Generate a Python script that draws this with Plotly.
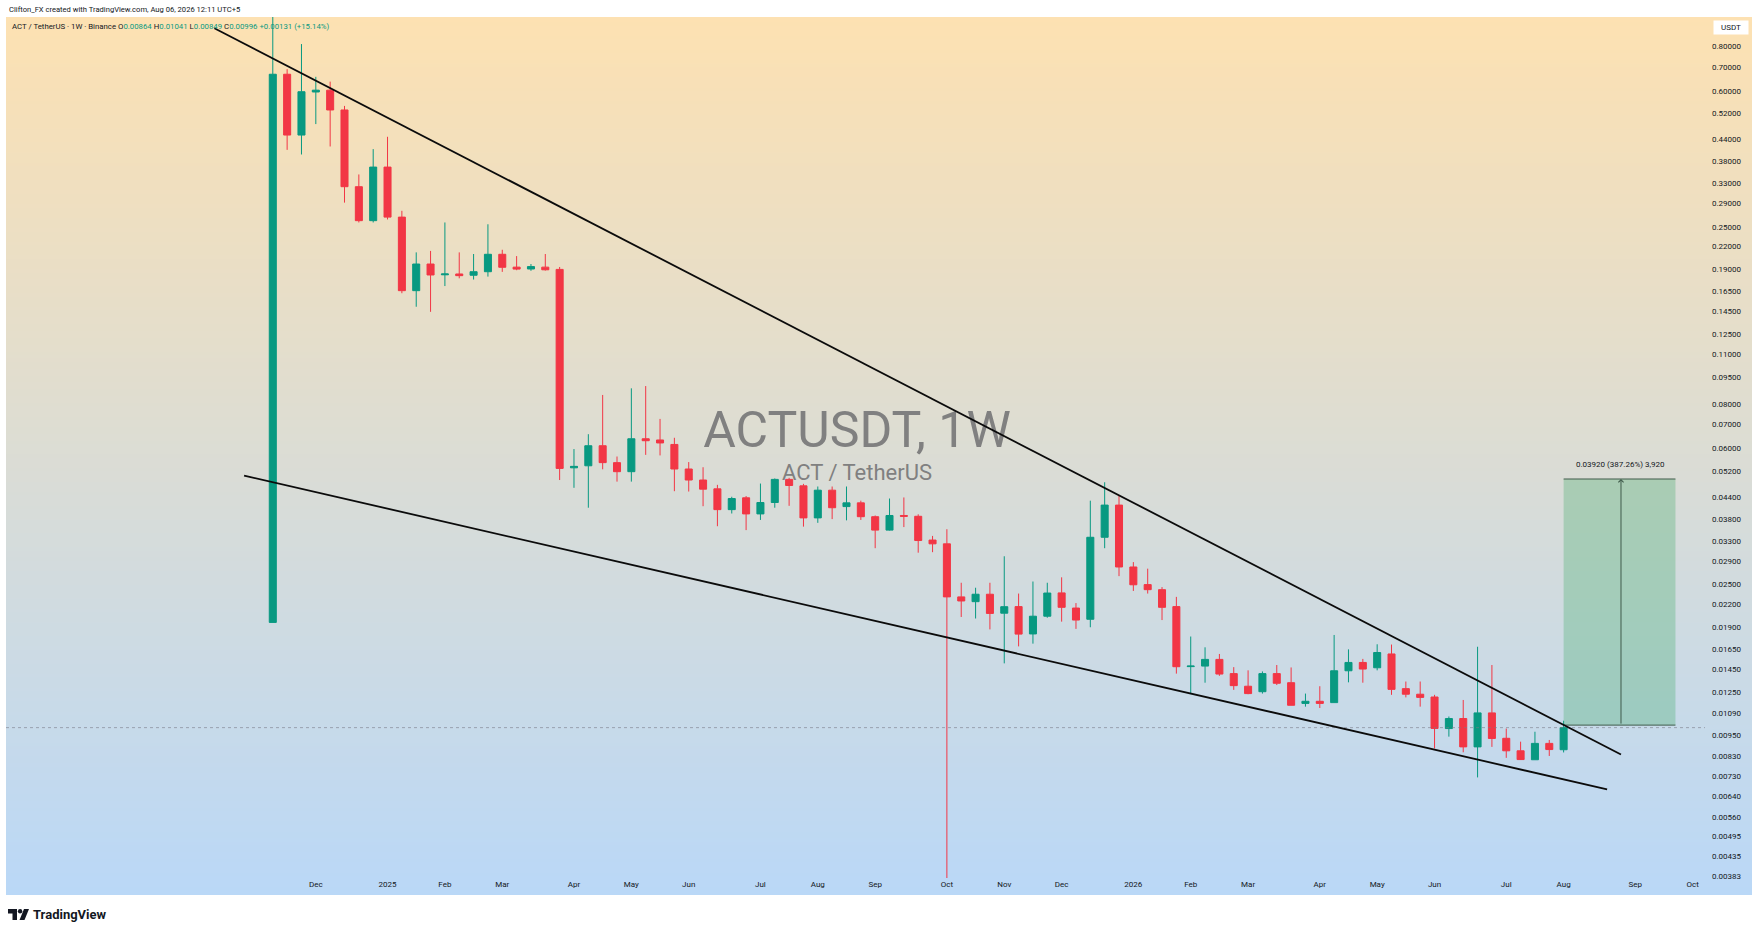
import math, zlib, struct, base64
import pandas as pd
import plotly.graph_objects as go

# ---------------- data ----------------
FIRST_WEEK = "2024-11-11"
OPEN = [0.0196, 0.667, 0.451, 0.595, 0.602, 0.530, 0.3235, 0.260, 0.367, 0.266,
        0.1657, 0.1967, 0.1835, 0.1845, 0.1830, 0.1872, 0.2094, 0.1928, 0.1905, 0.1928,
        0.1900, 0.0530, 0.0537, 0.0611, 0.0548, 0.0517, 0.0639, 0.0634, 0.0616, 0.0526,
        0.0490, 0.0463, 0.0405, 0.0437, 0.0394, 0.0424, 0.0492, 0.0472, 0.0384, 0.0459,
        0.0413, 0.0423, 0.0387, 0.0355, 0.0390, 0.0388, 0.0333, 0.0325, 0.0231, 0.0224,
        0.0235, 0.0208, 0.0217, 0.0182, 0.0204, 0.0237, 0.0215, 0.0200, 0.0339, 0.0417,
        0.0280, 0.0250, 0.0242, 0.0217, 0.01475, 0.0148, 0.01545, 0.0141, 0.0130, 0.01255,
        0.0141, 0.0133, 0.01164, 0.0118, 0.0117, 0.01436, 0.01515, 0.01464, 0.0160, 0.0128,
        0.01235, 0.01213, 0.0099, 0.01056, 0.0088, 0.01095, 0.0093, 0.00858, 0.0081, 0.0090,
        0.00864]
HIGH = [1.20, 0.689, 0.810, 0.656, 0.636, 0.544, 0.350, 0.412, 0.446, 0.277,
        0.212, 0.214, 0.257, 0.212, 0.2098, 0.254, 0.2156, 0.207, 0.1967, 0.2098,
        0.193, 0.0598, 0.0658, 0.0847, 0.0570, 0.0884, 0.0897, 0.0726, 0.0643, 0.0550,
        0.0532, 0.0475, 0.0440, 0.0442, 0.0479, 0.0495, 0.0497, 0.0478, 0.0470, 0.0470,
        0.0470, 0.0429, 0.0390, 0.0435, 0.0438, 0.0393, 0.0342, 0.0357, 0.0253, 0.0245,
        0.0253, 0.0300, 0.0236, 0.0255, 0.0253, 0.0262, 0.0222, 0.0429, 0.0483, 0.0443,
        0.0289, 0.0277, 0.0246, 0.0231, 0.0179, 0.0167, 0.0160, 0.0147, 0.0144, 0.0143,
        0.0149, 0.01467, 0.0124, 0.0130, 0.01808, 0.01648, 0.0155, 0.01703, 0.0170, 0.0134,
        0.0134, 0.0123, 0.0107, 0.0119, 0.01676, 0.0149, 0.0099, 0.0091, 0.0097, 0.0092,
        0.01041]
LOW = [0.0196, 0.410, 0.398, 0.484, 0.419, 0.292, 0.257, 0.257, 0.262, 0.163,
       0.1494, 0.1446, 0.1707, 0.1794, 0.178, 0.1814, 0.187, 0.189, 0.1883, 0.1886,
       0.0490, 0.0466, 0.0410, 0.0525, 0.0485, 0.0485, 0.0576, 0.0574, 0.0456, 0.0455,
       0.0414, 0.0364, 0.0395, 0.0355, 0.0379, 0.0410, 0.0415, 0.0363, 0.0372, 0.0381,
       0.0378, 0.0379, 0.0316, 0.0354, 0.0362, 0.0307, 0.0308, 0.0030, 0.0203, 0.0201,
       0.01874, 0.01506, 0.0168, 0.0171, 0.0202, 0.0197, 0.0188, 0.0190, 0.0316, 0.0264,
       0.0240, 0.0236, 0.0199, 0.0141, 0.01236, 0.0133, 0.0139, 0.0127, 0.01235, 0.0124,
       0.0131, 0.0115, 0.0114, 0.0113, 0.0117, 0.01333, 0.0133, 0.0144, 0.0123, 0.0121,
       0.0114, 0.00871, 0.0094, 0.0085, 0.00723, 0.0088, 0.0082, 0.0081, 0.0081, 0.0083,
       0.00849]
CLOSE = [0.667, 0.451, 0.596, 0.602, 0.530, 0.3235, 0.260, 0.367, 0.266, 0.1657,
         0.1967, 0.1833, 0.1845, 0.1825, 0.1872, 0.2094, 0.1926, 0.1904, 0.1935, 0.1895,
         0.0528, 0.0535, 0.0611, 0.0548, 0.0517, 0.0639, 0.0631, 0.0622, 0.0526, 0.0490,
         0.0462, 0.0405, 0.0435, 0.0394, 0.0424, 0.0492, 0.0473, 0.0384, 0.0459, 0.0410,
         0.0423, 0.0387, 0.0355, 0.0390, 0.0388, 0.0332, 0.0325, 0.0231, 0.0225, 0.0235,
         0.02077, 0.02169, 0.01818, 0.0204, 0.02368, 0.0216, 0.0199, 0.0339, 0.0417, 0.0280,
         0.02497, 0.0242, 0.0216, 0.01474, 0.0148, 0.01545, 0.01406, 0.01305, 0.0124, 0.0141,
         0.01325, 0.0115, 0.0118, 0.01164, 0.01436, 0.01515, 0.01452, 0.01615, 0.01274, 0.01235,
         0.0121, 0.00991, 0.01056, 0.0088, 0.01095, 0.00929, 0.00858, 0.00811, 0.0090, 0.00865,
         0.00996]

MONTH_TICK_DATES = ["2024-12-02", "2025-01-06", "2025-02-03", "2025-03-03", "2025-04-07",
                    "2025-05-05", "2025-06-02", "2025-07-07", "2025-08-04", "2025-09-01",
                    "2025-10-06", "2025-11-03", "2025-12-01", "2026-01-05", "2026-02-02",
                    "2026-03-02", "2026-04-06", "2026-05-04", "2026-06-01", "2026-07-06",
                    "2026-08-03", "2026-09-07", "2026-10-05"]
MONTH_TICK_TEXT = ["Dec", "2025", "Feb", "Mar", "Apr", "May", "Jun", "Jul", "Aug", "Sep",
                   "Oct", "Nov", "Dec", "2026", "Feb", "Mar", "Apr", "May", "Jun", "Jul",
                   "Aug", "Sep", "Oct"]
PRICE_TICKS = [0.8, 0.7, 0.6, 0.52, 0.44, 0.38, 0.33, 0.29, 0.25, 0.22, 0.19, 0.165, 0.145,
               0.125, 0.11, 0.095, 0.08, 0.07, 0.06, 0.052, 0.044, 0.038, 0.033, 0.029,
               0.025, 0.022, 0.019, 0.0165, 0.0145, 0.0125, 0.0109, 0.0095, 0.0083, 0.0073,
               0.0064, 0.0056, 0.00495, 0.00435, 0.00383]

UPPER_LINE_DATES = ["2024-10-13 12:00", "2026-08-31"]
UPPER_LINE_PRICES = [0.8965, 0.008378]
LOWER_LINE_DATES = ["2024-10-28", "2026-08-24 05:00"]
LOWER_LINE_PRICES = [0.05041, 0.006695]

RANGE_START = "2026-08-03"
RANGE_MID = "2026-08-31"
RANGE_END = "2026-09-26 14:00"
RANGE_BASE = 0.0101225
RANGE_TARGET = 0.0493225

X_RANGE = ["2024-07-03 19:00", "2026-10-11 00:00"]
Y_RANGE = [0.003785, 0.964]

# ---------------- style ----------------
GREEN = "#089981"
RED = "#F23645"
TXT = "#131722"
FONT = "Roboto"
W_FIG, H_FIG = 1759, 934
L, R, T, B = 6, 1705, 17, 878
PW, PH = R - L, B - T

def px(x):
    return (x - L) / PW

def py(y):
    return (B - y) / PH

def gradient_png(top, bottom, h=256):
    raw = b""
    for i in range(h):
        t = i / (h - 1)
        raw += b"\x00" + bytes([round(top[k] + (bottom[k] - top[k]) * t) for k in range(3)])
    def chunk(tag, data):
        return (struct.pack(">I", len(data)) + tag + data +
                struct.pack(">I", zlib.crc32(tag + data) & 0xffffffff))
    png = (b"\x89PNG\r\n\x1a\n" +
           chunk(b"IHDR", struct.pack(">IIBBBBB", 1, h, 8, 2, 0, 0, 0)) +
           chunk(b"IDAT", zlib.compress(raw)) + chunk(b"IEND", b""))
    return "data:image/png;base64," + base64.b64encode(png).decode()

dates = pd.date_range(FIRST_WEEK, periods=len(OPEN), freq="7D")

fig = go.Figure()

# watermark on the base (lower) subplot so candles draw over it
fig.add_trace(go.Scatter(
    x=[0.5009, 0.5009], y=[0.515, 0.469], mode="text",
    text=["ACTUSDT, 1W", "ACT / TetherUS"],
    textfont=dict(family=FONT, size=[50, 22], color="rgb(128,128,128)"),
    textposition="middle center", hoverinfo="skip", showlegend=False,
    xaxis="x", yaxis="y"))

# candles
fig.add_trace(go.Candlestick(
    x=dates, open=OPEN, high=HIGH, low=LOW, close=CLOSE,
    increasing=dict(line=dict(color=GREEN, width=1), fillcolor=GREEN),
    decreasing=dict(line=dict(color=RED, width=1), fillcolor=RED),
    whiskerwidth=0, showlegend=False, hoverinfo="skip",
    xaxis="x2", yaxis="y2"))

# last price dotted line
fig.add_trace(go.Scatter(
    x=X_RANGE, y=[CLOSE[-1], CLOSE[-1]], mode="lines",
    line=dict(color="rgba(120,123,134,0.6)", width=1, dash="dot"),
    hoverinfo="skip", showlegend=False, xaxis="x2", yaxis="y2"))

# price range box
fig.add_trace(go.Scatter(
    x=[RANGE_START, RANGE_END, RANGE_END, RANGE_START, RANGE_START],
    y=[RANGE_BASE, RANGE_BASE, RANGE_TARGET, RANGE_TARGET, RANGE_BASE],
    mode="lines", fill="toself", fillcolor="rgba(60,170,100,0.30)",
    line=dict(width=0), hoverinfo="skip", showlegend=False, xaxis="x2", yaxis="y2"))
for lvl in (RANGE_BASE, RANGE_TARGET):
    fig.add_trace(go.Scatter(
        x=[RANGE_START, RANGE_END], y=[lvl, lvl], mode="lines",
        line=dict(color="#3f5a4b", width=1), hoverinfo="skip", showlegend=False,
        xaxis="x2", yaxis="y2"))

# trendlines
for xs, ys in ((UPPER_LINE_DATES, UPPER_LINE_PRICES), (LOWER_LINE_DATES, LOWER_LINE_PRICES)):
    fig.add_trace(go.Scatter(
        x=xs, y=ys, mode="lines", line=dict(color="#0b0b0b", width=1.8),
        hoverinfo="skip", showlegend=False, xaxis="x2", yaxis="y2"))

# ---------------- annotations ----------------
o, h, l, c = OPEN[-1], HIGH[-1], LOW[-1], CLOSE[-1]
chg = c - CLOSE[-2]
pct = chg / CLOSE[-2] * 100
def g(s):
    return f"<span style='color:{GREEN}'>{s}</span>"
legend_txt = (f"ACT / TetherUS · 1W · Binance O{g(f'{o:.5f}')} H{g(f'{h:.5f}')} "
              f"L{g(f'{l:.5f}')} C{g(f'{c:.5f}')} {g(f'{chg:+.5f} ({pct:+.2f}%)')}")

diff = RANGE_TARGET - RANGE_BASE
range_label = f"{diff:.5f} ({diff / RANGE_BASE * 100:.2f}%) {round(diff / 0.00001):,}"

annotations = [
    dict(text="Clifton_FX created with TradingView.com, Aug 06, 2026 12:11 UTC+5",
         xref="paper", yref="paper", x=px(7), y=py(9), xanchor="left", yanchor="middle",
         showarrow=False, font=dict(family=FONT, size=7.6, color=TXT)),
    dict(text=legend_txt, xref="paper", yref="paper", x=px(10), y=py(26),
         xanchor="left", yanchor="middle", showarrow=False,
         font=dict(family=FONT, size=7.8, color=TXT)),
    dict(text="USDT", xref="paper", yref="paper", x=px(1731), y=py(27.5),
         xanchor="center", yanchor="middle", showarrow=False, bgcolor="white",
         width=32, height=11, borderpad=1, font=dict(family=FONT, size=8, color=TXT)),
    dict(text=range_label, xref="x2", yref="y2", x=RANGE_MID, y=math.log10(RANGE_TARGET),
         yshift=15, showarrow=False, font=dict(family=FONT, size=8, color=TXT)),
    dict(text="", xref="x2", yref="y2", axref="x2", ayref="y2",
         x=RANGE_MID, y=math.log10(RANGE_TARGET), ax=RANGE_MID, ay=math.log10(RANGE_BASE),
         showarrow=True, arrowhead=4, arrowsize=1, arrowwidth=1, arrowcolor="#3f5a4b",
         standoff=0, startstandoff=0),
    dict(text="<b>TradingView</b>", xref="paper", yref="paper", x=px(31), y=py(914.5),
         xanchor="left", yanchor="middle", showarrow=False,
         font=dict(family=FONT, size=13, color=TXT)),
]

def poly(pts):
    return "M " + " L ".join(f"{px(a):.6f},{py(b):.6f}" for a, b in pts) + " Z"

shapes = [
    dict(type="path", xref="paper", yref="paper", layer="above",
         path=poly([(8, 909), (17, 909), (17, 920), (12.5, 920), (12.5, 913.5), (8, 913.5)]),
         fillcolor=TXT, line=dict(width=0)),
    dict(type="circle", xref="paper", yref="paper", layer="above",
         x0=px(17.9), x1=px(22.3), y0=py(913.4), y1=py(909),
         fillcolor=TXT, line=dict(width=0)),
    dict(type="path", xref="paper", yref="paper", layer="above",
         path=poly([(24, 909), (29, 909), (24.5, 920), (19.5, 920)]),
         fillcolor=TXT, line=dict(width=0)),
]

images = [dict(source=gradient_png((253, 225, 178), (186, 216, 247)),
               xref="paper", yref="paper", x=px(6), y=py(17),
               sizex=px(1752) - px(6), sizey=py(17) - py(895),
               xanchor="left", yanchor="top", sizing="stretch", layer="below")]

fig.update_layout(
    width=W_FIG, height=H_FIG,
    margin=dict(l=L, r=W_FIG - R, t=T, b=H_FIG - B, pad=0),
    paper_bgcolor="white", plot_bgcolor="rgba(0,0,0,0)",
    showlegend=False, hovermode=False,
    font=dict(family=FONT, size=8, color=TXT),
    xaxis=dict(range=[0, 1], visible=False, fixedrange=True, rangeslider=dict(visible=False)),
    yaxis=dict(range=[0, 1], visible=False, fixedrange=True),
    xaxis2=dict(overlaying="x", anchor="y2", type="date",
                range=X_RANGE, tickvals=MONTH_TICK_DATES, ticktext=MONTH_TICK_TEXT,
                showgrid=False, zeroline=False, showline=False, ticks="",
                tickfont=dict(family=FONT, size=8, color=TXT),
                rangeslider=dict(visible=False), automargin=False),
    yaxis2=dict(overlaying="y", anchor="x2", side="right", type="log",
                range=[math.log10(Y_RANGE[0]), math.log10(Y_RANGE[1])],
                tickvals=PRICE_TICKS, ticktext=[f"{v:.5f}" for v in PRICE_TICKS],
                showgrid=False, zeroline=False, showline=False, ticks="",
                ticklabelstandoff=6,
                tickfont=dict(family=FONT, size=8, color=TXT), automargin=False),
    annotations=annotations, shapes=shapes, images=images,
)

fig.write_html("out.html", config={"displayModeBar": False},
               post_script="document.body.style.margin='0';document.body.style.overflow='hidden';")
